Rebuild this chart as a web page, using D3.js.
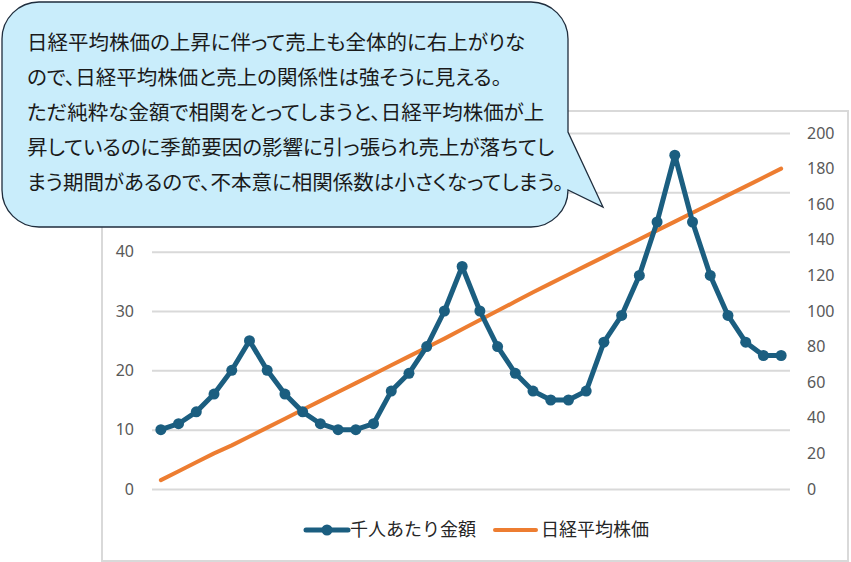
<!DOCTYPE html>
<html>
<head>
  <meta charset="utf-8">
  <script src="https://cdn.jsdelivr.net/npm/d3@7/dist/d3.min.js"></script>
  <style>
    body { margin: 0; background: #fff; }
    svg { display: block; }
  </style>
</head>
<body>
  <main id="container"></main>

  <script>
    // 3 years x 12 months
    const years = ["1年目", "2年目", "3年目"];
    const months = ["1月", "2月", "3月", "4月", "5月", "6月", "7月", "8月", "9月", "10月", "11月", "12月"];

    // 千人あたり金額 (left axis)
    const salesPerThousand = [
      10, 11, 13, 16, 20, 25, 20, 16, 13, 11, 10, 10,
      11, 16.5, 19.5, 24, 30, 37.5, 30, 24, 19.5, 16.5, 15, 15,
      16.5, 24.75, 29.25, 36, 45, 56.25, 45, 36, 29.25, 24.75, 22.5, 22.5
    ];

    // 日経平均株価 (right axis)
    const nikkei = [
      5, 10, 15, 20, 24.5, 29.5, 34.5, 39.5, 44.5, 49.5, 54.5, 59.5,
      64.5, 69.5, 74.5, 79.5, 84.5, 89.7, 94.9, 100.1, 105.3, 110.5, 115.5, 120.5,
      125.5, 130.4, 135.4, 140.3, 145.3, 150.2, 155.2, 160.1, 165.1, 170, 175, 180
    ];

    // grid for the left axis runs to 60; 50 and 60 sit under the callout
    const leftGrid = [0, 10, 20, 30, 40, 50, 60];
    const leftTicks = [0, 10, 20, 30, 40];
    const rightTicks = [0, 20, 40, 60, 80, 100, 120, 140, 160, 180, 200];
    const seriesNames = ["千人あたり金額", "日経平均株価"];

    const calloutLines = [
      "日経平均株価の上昇に伴って売上も全体的に右上がりな",
      "ので、日経平均株価と売上の関係性は強そうに見える。",
      "ただ純粋な金額で相関をとってしまうと、日経平均株価が上",
      "昇しているのに季節要因の影響に引っ張られ売上が落ちてし",
      "まう期間があるので、不本意に相関係数は小さくなってしまう。"
    ];

    const categories = years.flatMap(y => months.map(m => y + m));

    // layout
    const vizWidth = 851;
    const vizHeight = 562;
    const plot = { left: 152, right: 790, top: 133, bottom: 489 };
    const blue = "#1b5e80";
    const orange = "#ed7d31";
    const grid = "#d9d9d9";

    const svg = d3.select("#container")
      .append("svg")
      .attr("width", vizWidth)
      .attr("height", vizHeight);

    // chart frame
    svg.append("rect")
      .attr("x", 102)
      .attr("y", 111)
      .attr("width", 746)
      .attr("height", 450)
      .attr("fill", "#fff")
      .attr("stroke", grid)
      .attr("stroke-width", 2);

    // scales
    const x = d3.scalePoint()
      .domain(categories)
      .range([plot.left, plot.right])
      .padding(0.5);

    const yLeft = d3.scaleLinear()
      .domain([0, 60])
      .range([plot.bottom, plot.top]);

    const yRight = d3.scaleLinear()
      .domain([0, 200])
      .range([plot.bottom, plot.top]);

    // gridlines
    svg.append("g")
      .attr("transform", `translate(${plot.left},0)`)
      .call(d3.axisLeft(yLeft).tickValues(leftGrid).tickSize(-(plot.right - plot.left)).tickFormat(""))
      .call(g => g.select(".domain").remove())
      .call(g => g.selectAll("line").attr("stroke", grid).attr("stroke-width", 2));

    // axes
    const tickFont = "'Noto Sans', 'DejaVu Sans', sans-serif";
    svg.append("g")
      .attr("transform", "translate(134,0)")
      .call(d3.axisLeft(yLeft).tickValues(leftTicks).tickSize(0).tickPadding(0))
      .call(g => g.select(".domain").remove())
      .call(g => g.selectAll("text")
        .attr("fill", "#595959")
        .style("font-family", tickFont)
        .style("font-size", "16px"));

    svg.append("g")
      .attr("transform", "translate(807,0)")
      .call(d3.axisRight(yRight).tickValues(rightTicks).tickSize(0).tickPadding(0))
      .call(g => g.select(".domain").remove())
      .call(g => g.selectAll("text")
        .attr("fill", "#595959")
        .style("font-family", tickFont)
        .style("font-size", "16px"));

    // 日経平均株価 line
    const nikkeiLine = d3.line()
      .x((d, i) => x(categories[i]))
      .y(d => yRight(d));

    svg.append("path")
      .datum(nikkei)
      .attr("d", nikkeiLine)
      .attr("fill", "none")
      .attr("stroke", orange)
      .attr("stroke-width", 4)
      .attr("stroke-linecap", "round")
      .attr("stroke-linejoin", "round");

    // 千人あたり金額 line + markers
    const salesLine = d3.line()
      .x((d, i) => x(categories[i]))
      .y(d => yLeft(d));

    svg.append("path")
      .datum(salesPerThousand)
      .attr("d", salesLine)
      .attr("fill", "none")
      .attr("stroke", blue)
      .attr("stroke-width", 5)
      .attr("stroke-linejoin", "round");

    svg.append("g")
      .selectAll("circle")
      .data(salesPerThousand)
      .join("circle")
      .attr("cx", (d, i) => x(categories[i]))
      .attr("cy", d => yLeft(d))
      .attr("r", 5.5)
      .attr("fill", blue);

    // legend
    const jpFont = "'Noto Sans CJK JP', sans-serif";
    const legend = svg.append("g").attr("transform", "translate(0,530)");

    legend.append("line")
      .attr("x1", 306).attr("x2", 348)
      .attr("stroke", blue).attr("stroke-width", 5).attr("stroke-linecap", "round");
    legend.append("circle")
      .attr("cx", 327).attr("r", 5.5).attr("fill", blue);
    legend.append("line")
      .attr("x1", 495).attr("x2", 536)
      .attr("stroke", orange).attr("stroke-width", 4).attr("stroke-linecap", "round");

    legend.selectAll("text")
      .data(seriesNames)
      .join("text")
      .attr("x", (d, i) => i === 0 ? 350 : 541)
      .attr("dy", "0.36em")
      .attr("fill", "#262626")
      .style("font-family", jpFont)
      .style("font-size", "18px")
      .text(d => d);

    // callout bubble
    const c = { x0: 2, y0: 2, x1: 568, y1: 227, r: 37 };
    const bubble = d3.path();
    bubble.moveTo(c.x0 + c.r, c.y0);
    bubble.lineTo(c.x1 - c.r, c.y0);
    bubble.arcTo(c.x1, c.y0, c.x1, c.y0 + c.r, c.r);
    bubble.lineTo(c.x1, 132);
    bubble.lineTo(603, 207);
    bubble.lineTo(c.x1, c.y1 - c.r);
    bubble.arcTo(c.x1, c.y1, c.x1 - c.r, c.y1, c.r);
    bubble.lineTo(c.x0 + c.r, c.y1);
    bubble.arcTo(c.x0, c.y1, c.x0, c.y1 - c.r, c.r);
    bubble.lineTo(c.x0, c.y0 + c.r);
    bubble.arcTo(c.x0, c.y0, c.x0 + c.r, c.y0, c.r);
    bubble.closePath();

    svg.append("path")
      .attr("d", bubble.toString())
      .attr("fill", "#c9edfb")
      .attr("stroke", "#1f2d3d")
      .attr("stroke-width", 1.3);

    svg.append("g")
      .selectAll("text")
      .data(calloutLines)
      .join("text")
      .attr("x", 27)
      .attr("y", (d, i) => 43 + i * 35)
      .attr("dy", "0.36em")
      .attr("fill", "#1a1a1a")
      .style("font-family", jpFont)
      .style("font-size", "20.5px")
      .style("font-feature-settings", "'palt'")
      .text(d => d);
  </script>
</body>
</html>
